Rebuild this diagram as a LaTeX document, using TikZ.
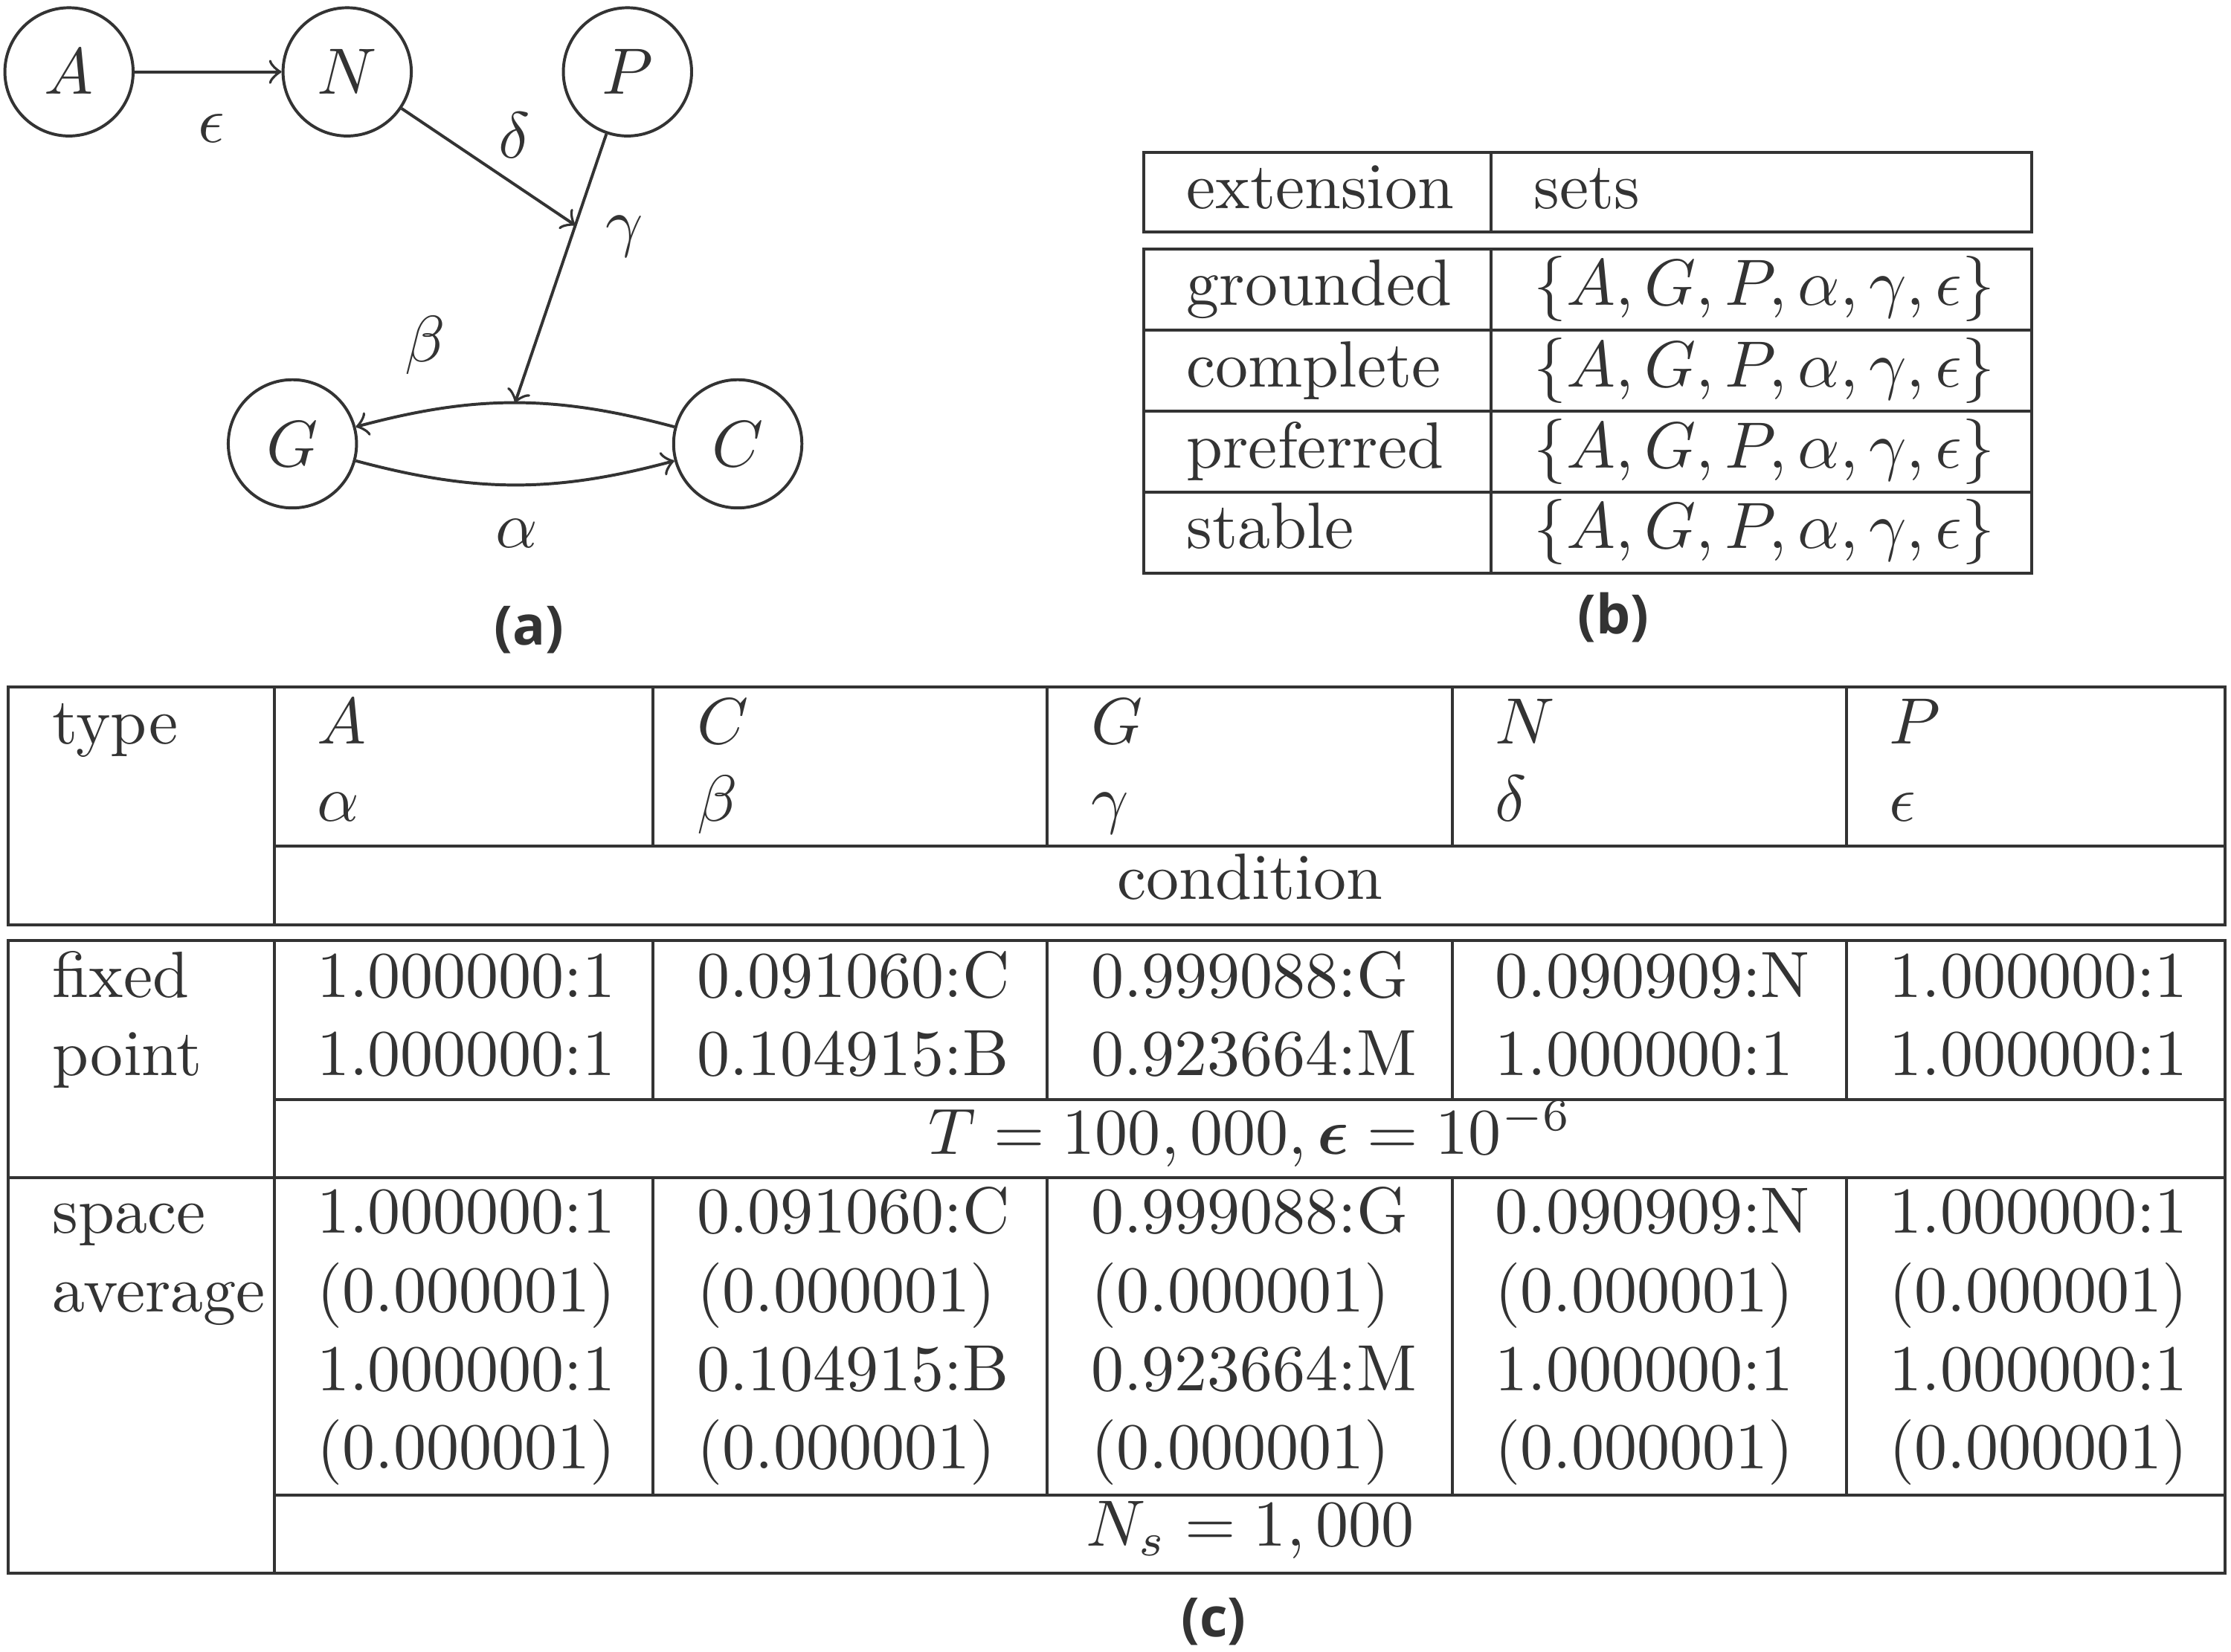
\documentclass[tikz,border=0pt]{standalone}
\usepackage{amsmath}
\usepackage{fontspec}
\newfontfamily\capfont{Open Sans}
\definecolor{ink}{HTML}{333333}
\tikzset{
  arg/.style={circle, draw=ink, line width=0.45pt, minimum size=19.6pt, inner sep=0pt, text=ink},
  lbl/.style={inner sep=0pt, text=ink},
  cellw/.style={anchor=base west, inner sep=0pt, text=ink},
  cellc/.style={anchor=base, inner sep=0pt, text=ink},
  rule/.style={draw=ink, line width=0.45pt},
  att/.style={->, draw=ink, line width=0.45pt},
  capt/.style={inner sep=0pt, text=ink, font=\capfont\bfseries\fontsize{8.3}{10}\selectfont}
}
\begin{document}
\begin{tikzpicture}[x=0.2174pt, y=-0.2174pt]
\useasboundingbox (0,0) rectangle (1568,1161);

% ---------------- (a) graph ----------------
\node[arg] (A) at (48.5,50.5) {$A$};
\node[arg] (N) at (244,50.5) {$N$};
\node[arg] (P) at (441,50.5) {$P$};
\node[arg] (G) at (205.5,312) {$G$};
\node[arg] (C) at (518.5,312) {$C$};

\draw[att] (A) -- (N);
\draw[att] (C) to[bend right=15] coordinate[pos=0.5] (bm) (G);
\draw[att] (G) to[bend right=15] (C);
\draw[att] (P) -- coordinate[pos=0.34] (gm) (bm);
\draw[att] (N) -- (gm);

\node[lbl] (leps) at (148.5,90) {$\epsilon$};
\node[lbl] (ldel) at (361.5,95) {$\delta$};
\node[lbl] (lgam) at (439,166) {$\gamma$};
\node[lbl] (lbet) at (299,243) {$\beta$};
\node[lbl] (lalp) at (363,375) {$\alpha$};

\node[capt] (capa) at (372,443) {(a)};

% ---------------- (b) table ----------------
\draw[rule] (804,107) rectangle (1428,163);
\draw[rule] (1048,107) -- (1048,163);
\draw[rule] (804,175) rectangle (1428,403);
\draw[rule] (1048,175) -- (1048,403);
\foreach \yy in {232,289,346} { \draw[rule] (804,\yy) -- (1428,\yy); }

\node[cellw] (bh1) at (833,146.5) {extension};
\node[cellw] (bh2) at (1077,146.5) {sets};
\node[cellw] (br1) at (833,214.5) {grounded};
\node[cellw] (br2) at (833,272) {complete};
\node[cellw] (br3) at (833,329) {preferred};
\node[cellw] (br4) at (833,385.5) {stable};
\node[cellw] (bs1) at (1077,214.5) {$\{A,G,P,\alpha,\gamma,\epsilon\}$};
\node[cellw] (bs2) at (1077,272) {$\{A,G,P,\alpha,\gamma,\epsilon\}$};
\node[cellw] (bs3) at (1077,329) {$\{A,G,P,\alpha,\gamma,\epsilon\}$};
\node[cellw] (bs4) at (1077,385.5) {$\{A,G,P,\alpha,\gamma,\epsilon\}$};

\node[capt] (capb) at (1134,434) {(b)};

% ---------------- (c) table ----------------
% header block
\draw[rule] (6,483) rectangle (1564,650);
\draw[rule] (193,483) -- (193,650);
\foreach \xx in {459,736,1021,1298} { \draw[rule] (\xx,483) -- (\xx,595); }
\draw[rule] (193,595) -- (1564,595);

\node[cellw] (ctype) at (36,523) {type};
\node[cellw] (chA) at (222,523) {$A$};
\node[cellw] (chC) at (489,523) {$C$};
\node[cellw] (chG) at (766,523) {$G$};
\node[cellw] (chN) at (1050,523) {$N$};
\node[cellw] (chP) at (1327,523) {$P$};
\node[cellw] (cha) at (222,577.5) {$\alpha$};
\node[cellw] (chb) at (489,577.5) {$\beta$};
\node[cellw] (chg) at (766,577.5) {$\gamma$};
\node[cellw] (chd) at (1050,577.5) {$\delta$};
\node[cellw] (che) at (1327,577.5) {$\epsilon$};
\node[cellc] (ccond) at (878.5,632) {condition};

% body block
\draw[rule] (6,661) rectangle (1564,1106);
\draw[rule] (6,828) -- (1564,828);
\draw[rule] (193,661) -- (193,1106);
\foreach \xx in {459,736,1021,1298} {
  \draw[rule] (\xx,661) -- (\xx,773);
  \draw[rule] (\xx,828) -- (\xx,1051);
}
\draw[rule] (193,773) -- (1564,773);
\draw[rule] (193,1051) -- (1564,1051);

\node[cellw] (cfix) at (36,701) {fixed};
\node[cellw] (cpoint) at (36,756) {point};
\node[cellw] (cspace) at (36,867) {space};
\node[cellw] (caver) at (36,922) {average};

% fixed point rows
\node[cellw] (f11) at (222,701) {1.000000:1};
\node[cellw] (f12) at (489,701) {0.091060:C};
\node[cellw] (f13) at (766,701) {0.999088:G};
\node[cellw] (f14) at (1050,701) {0.090909:N};
\node[cellw] (f15) at (1327,701) {1.000000:1};
\node[cellw] (f21) at (222,756) {1.000000:1};
\node[cellw] (f22) at (489,756) {0.104915:B};
\node[cellw] (f23) at (766,756) {0.923664:M};
\node[cellw] (f24) at (1050,756) {1.000000:1};
\node[cellw] (f25) at (1327,756) {1.000000:1};
\node[cellc] (fcond) at (878.5,811.5) {$T=100,000, \boldsymbol{\epsilon}=10^{-6}$};

% space average rows
\node[cellw] (s11) at (222,867) {1.000000:1};
\node[cellw] (s12) at (489,867) {0.091060:C};
\node[cellw] (s13) at (766,867) {0.999088:G};
\node[cellw] (s14) at (1050,867) {0.090909:N};
\node[cellw] (s15) at (1327,867) {1.000000:1};
\node[cellw] (s21) at (222,922) {(0.000001)};
\node[cellw] (s22) at (489,922) {(0.000001)};
\node[cellw] (s23) at (766,922) {(0.000001)};
\node[cellw] (s24) at (1050,922) {(0.000001)};
\node[cellw] (s25) at (1327,922) {(0.000001)};
\node[cellw] (s31) at (222,977.5) {1.000000:1};
\node[cellw] (s32) at (489,977.5) {0.104915:B};
\node[cellw] (s33) at (766,977.5) {0.923664:M};
\node[cellw] (s34) at (1050,977.5) {1.000000:1};
\node[cellw] (s35) at (1327,977.5) {1.000000:1};
\node[cellw] (s41) at (222,1032.5) {(0.000001)};
\node[cellw] (s42) at (489,1032.5) {(0.000001)};
\node[cellw] (s43) at (766,1032.5) {(0.000001)};
\node[cellw] (s44) at (1050,1032.5) {(0.000001)};
\node[cellw] (s45) at (1327,1032.5) {(0.000001)};
\node[cellc] (scond) at (878.5,1087) {$N_s=1,000$};

\node[capt] (capc) at (853,1140) {(c)};
\end{tikzpicture}
\end{document}
